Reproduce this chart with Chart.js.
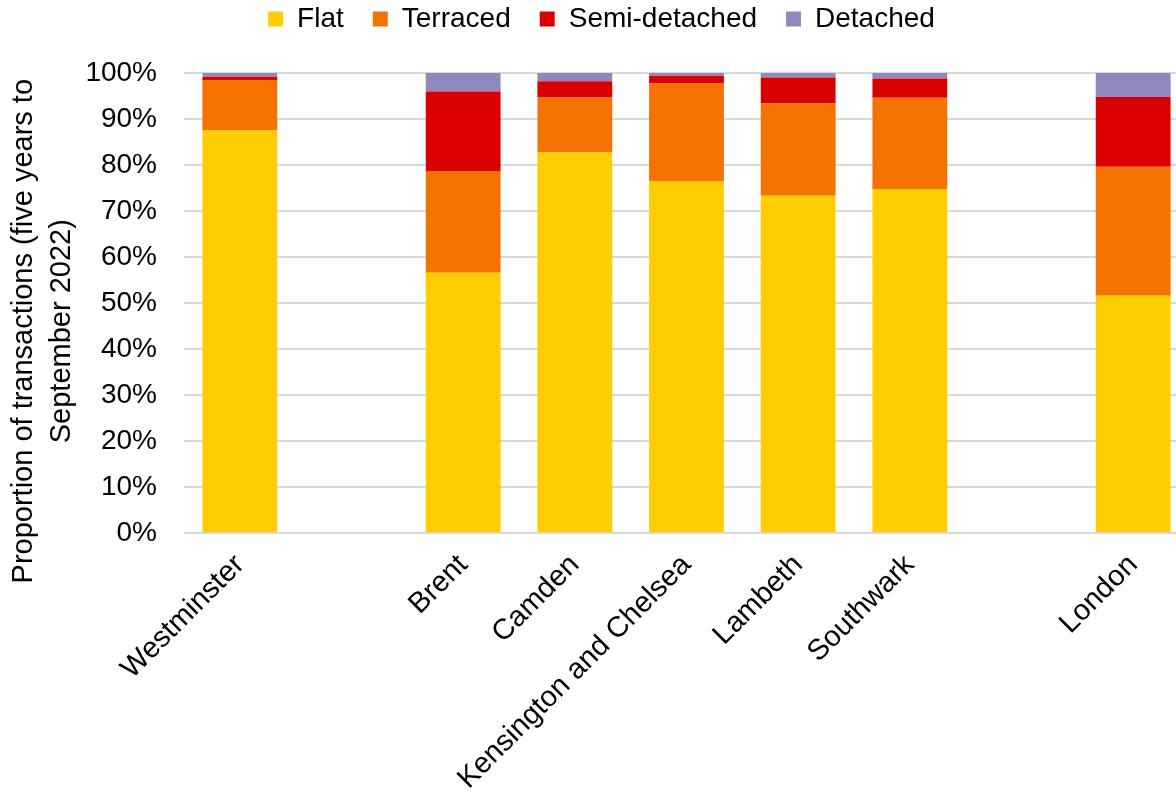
<!DOCTYPE html>
<html>
<head>
<meta charset="utf-8">
<title>Property transactions by type</title>
<script src="https://cdn.jsdelivr.net/npm/chart.js@4/dist/chart.umd.min.js"></script>
<style>
  html, body { margin: 0; padding: 0; background: #fff; overflow: hidden; }
  #wrap { position: relative; width: 1189px; height: 797px; }
</style>
</head>
<body>
<div id="wrap"><canvas id="chart"></canvas></div>
<script>
// Boroughs (blank entries leave gaps between groups)
const categories = ['Westminster', '', 'Brent', 'Camden', 'Kensington and Chelsea', 'Lambeth', 'Southwark', '', 'London'];

// Share of transactions by property type, % (five years to September 2022)
const flat         = [87.5, null, 56.6, 82.7, 76.5, 73.3, 74.8, null, 51.6];
const terraced     = [11.0, null, 22.1, 12.1, 21.2, 20.1, 19.8, null, 28.0];
const semiDetached = [0.7,  null, 17.3, 3.4,  1.7,  5.6,  4.2,  null, 15.2];
const detached     = [0.8,  null, 4.0,  1.8,  0.6,  1.0,  1.2,  null, 5.2];

const seriesNames = ['Flat', 'Terraced', 'Semi-detached', 'Detached'];
const seriesColors = ['#FFCD00', '#F47300', '#DB0000', '#9288C0'];

// Axis ticks, percent
const yMin = 0;
const yMax = 100;
const yStep = 10;

const FONT = 'Liberation Sans, Arial, Helvetica, sans-serif';

// Extra room under the legend and a small sideways nudge
const legendSpacing = {
  id: 'legendSpacing',
  beforeInit(chart) {
    const fit = chart.legend.fit;
    chart.legend.fit = function () {
      fit.call(this);
      this.height += 30;
    };
  },
  afterLayout(chart) {
    chart.legend.left += 7;
    chart.legend.right += 7;
  }
};

const values = [flat, terraced, semiDetached, detached];

// trailing spaces move the axis title a little toward the bottom
const titlePad = ' '.repeat(7);

new Chart(document.getElementById('chart'), {
  type: 'bar',
  data: {
    labels: categories,
    datasets: values.map((arr, i) => ({
      label: seriesNames[i],
      data: arr,
      backgroundColor: seriesColors[i],
      borderWidth: 0,
      barPercentage: 0.67,
      categoryPercentage: 1
    }))
  },
  options: {
    responsive: true,
    maintainAspectRatio: false,
    animation: false,
    layout: { padding: { top: -24, left: 0, right: 0, bottom: 0 } },
    plugins: {
      legend: {
        position: 'top',
        labels: {
          boxWidth: 15,
          boxHeight: 15,
          padding: 29,
          color: '#000',
          font: { family: FONT, size: 28 }
        }
      },
      tooltip: { enabled: false }
    },
    scales: {
      x: {
        stacked: true,
        grid: { display: false, drawTicks: false },
        border: { display: false },
        ticks: {
          autoSkip: false,
          maxRotation: 45,
          minRotation: 45,
          padding: 15,
          color: '#000',
          font: { family: FONT, size: 29 }
        },
        afterFit(scale) { scale.height = 264; }
      },
      y: {
        stacked: true,
        min: yMin,
        max: yMax,
        grid: { color: '#D9D9D9', lineWidth: 2, drawTicks: false },
        border: { display: false },
        ticks: {
          stepSize: yStep,
          padding: 27,
          color: '#000',
          font: { family: FONT, size: 28 },
          callback: v => v + '%'
        },
        title: {
          display: true,
          text: ['Proportion of transactions (five years to' + titlePad, 'September 2022)' + titlePad],
          color: '#000',
          font: { family: FONT, size: 29, lineHeight: 1.3 },
          padding: { top: 5, bottom: 0 }
        },
        afterFit(scale) { scale.width = 184; }
      }
    }
  },
  plugins: [legendSpacing]
});
</script>
</body>
</html>
